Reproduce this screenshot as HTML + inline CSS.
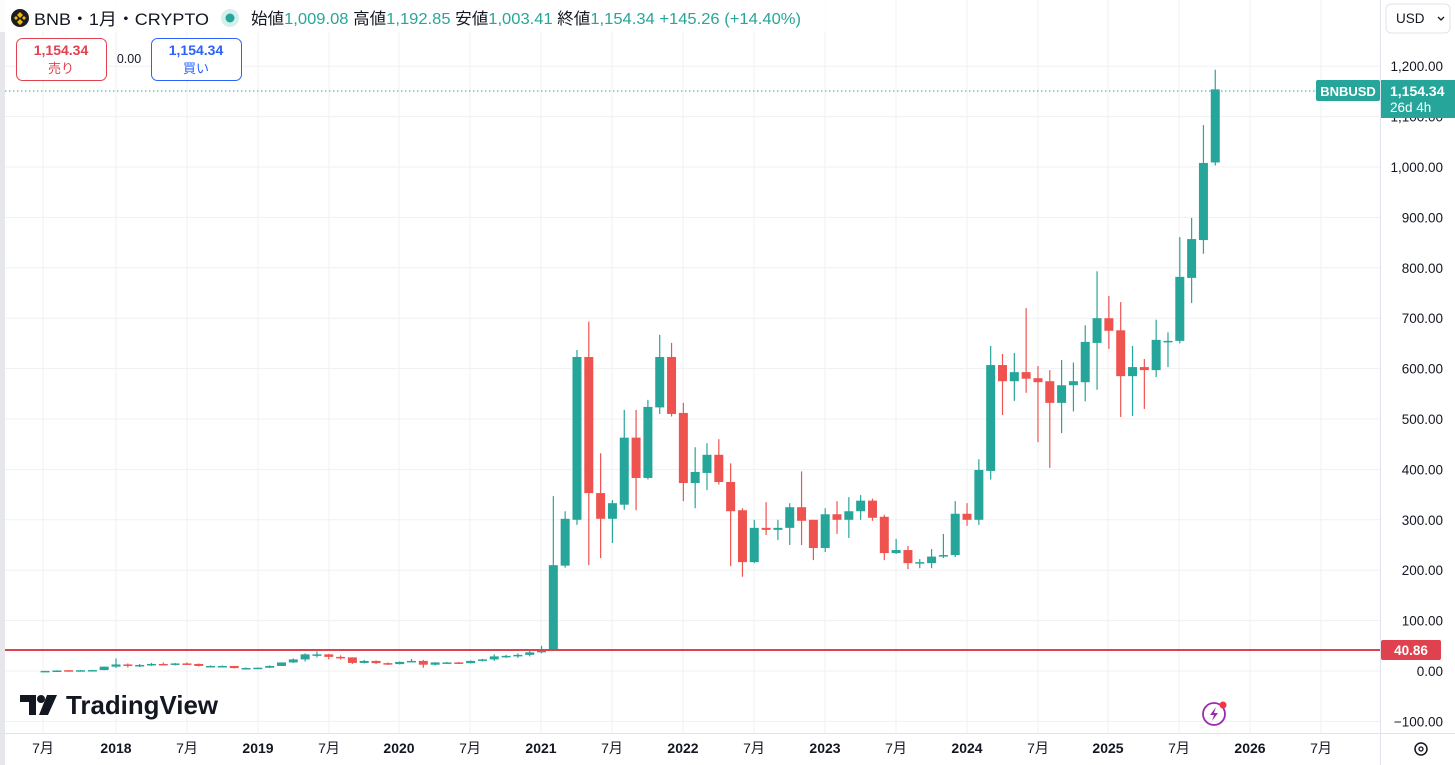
<!DOCTYPE html>
<html><head><meta charset="utf-8">
<style>
body{margin:0;width:1455px;height:765px;overflow:hidden;background:#fff;font-family:"Liberation Sans","Noto Sans CJK JP",sans-serif;}
svg{position:absolute;left:0;top:0}
</style></head><body>
<svg id="s" width="1455" height="765" xmlns="http://www.w3.org/2000/svg" font-family="Liberation Sans, Noto Sans CJK JP, sans-serif"></svg>
<script>
const s=document.getElementById('s');
let h='';
const Y=v=>671-v*0.504;
const X=i=>116+i*11.82;
for(let v=-100;v<=1200;v+=100){h+=`<line x1="5" x2="1380" y1="${Y(v)}" y2="${Y(v)}" stroke="#f0f1f3" stroke-width="1"/>`;}
const vx=[43,116,187,258,329,399,470,541,612,683,754,825,896,967,1038,1108,1179,1250,1321];
vx.forEach(x=>h+=`<line x1="${x}" x2="${x}" y1="0" y2="733" stroke="#f0f1f3"/>`);
h+=`<rect x="0" y="0" width="5" height="765" fill="#e6e7ea"/>`;
h+=`<line x1="0" x2="1455" y1="733.5" y2="733.5" stroke="#e0e3eb"/>`;
h+=`<line x1="1380.5" x2="1380.5" y1="0" y2="765" stroke="#e0e3eb"/>`;
const d=[[0.1,0.2,0.3,0.1],[0.2,1,1.5,0.2],[1.5,1.3,2,0.7],[1.3,1.5,2,1],[1.5,1.9,2.5,1.2],[1.9,8.6,9,1.5],
[8.6,13,25,6],[13,10,15,7],[10,12,14,8],[12,14,16,10],[14,13,17,12],[13,15,16,11],[15,14,17,12],[14,10,15,9],[10,10,11,8],[10,10,11,9],[10,5.8,10,5],[5.8,6,7,4.2],
[6,6.5,7,5],[6.5,10,11,6],[10,17,17,10],[17,23,25,16],[23,33,35,19],[33,33,39,27],[33,28,34,23],[28,27,31,23],[27,16,27,14],[16,20,22,15],[20,15.6,21,14],[15.6,13.7,17,12],
[13.7,18,19,13],[18,20,24,17],[20,12.5,22,6.5],[12.5,17,17.5,11],[17,17,18,15],[17,15.5,18,14],[15.5,20,21,15],[20,23,24,19],[23,29,33,20],[29,30,32,26],[30,32,35,26],[32,37,40,29],
[37,43,50,35],[42,210,347,40],[209,302,317,205],[300,623,637,290],[623,353,693,210],[353,302,432,224],[302,333,339,254],[330,463,518,320],[463,383,518,319],[383,524,538,380],[523,623,667,510],[623,510,651,505],
[512,373,532,337],[373,395,444,323],[393,429,452,359],[429,375,460,370],[375,317,412,208],[319,216,323,187],[216,284,300,214],[284,280,335,270],[280,284,300,260],[284,325,333,250],[325,298,396,250],[300,244,300,220],
[244,311,323,236],[311,300,337,272],[300,317,345,264],[317,338,349,300],[338,304,342,298],[306,234,310,220],[234,240,262,232],[240,214,248,202],[216,216,222,204],[214,227,242,204],[227,230,272,224],[230,312,337,226],
[312,300,333,288],[300,399,420,290],[397,607,645,380],[607,575,629,508],[575,593,631,536],[593,580,720,552],[581,573,605,454],[575,532,597,403],[532,567,617,472],[567,575,612,515],[573,653,686,535],[651,700,793,558],
[700,675,744,639],[676,585,732,504],[585,603,645,506],[603,597,619,520],[597,657,697,583],[655,655,672,603],[655,782,861,650],[780,857,899,730],[855,1008,1083,828],[1009,1154,1193,1003]];
d.forEach((c,k)=>{const i=k-6,x=X(i);const [o,cl,hi,lo]=c;const col=cl>=o?'#26a69a':'#ef5350';
let t=Y(Math.max(o,cl)),b=Y(Math.min(o,cl));if(b-t<1.5){b=t+1.5;}
h+=`<line x1="${x}" x2="${x}" y1="${Y(hi)}" y2="${Y(lo)}" stroke="${col}" stroke-width="1.2"/>`;
h+=`<rect x="${x-4.5}" y="${t}" width="9" height="${b-t}" fill="${col}"/>`;});
h+=`<line x1="5" x2="1380" y1="91" y2="91" stroke="#26a69a" stroke-dasharray="1.5 2.5"/>`;
h+=`<line x1="5" x2="1380" y1="650" y2="650" stroke="#e0414f" stroke-width="2"/>`;
for(let v=-100;v<=1200;v+=100){if(v===1100)continue;const t=v<0?'−100.00':(v>=1000?v.toLocaleString('en-US')+'.00':v+'.00');
h+=`<text x="1443" y="${Y(v)+5}" font-size="13.5" fill="#131722" text-anchor="end">${t}</text>`;}
h+=`<text x="1443" y="${Y(1100)+5}" font-size="13.5" fill="#131722" text-anchor="end">1,100.00</text>`;
h+=`<rect x="1316" y="80" width="64" height="21" rx="2" fill="#26a69a"/><text x="1348" y="96" font-size="13" font-weight="bold" fill="#fff" text-anchor="middle">BNBUSD</text>`;
h+=`<rect x="1381" y="80" width="74" height="38" fill="#26a69a"/><text x="1390" y="96" font-size="14" font-weight="bold" fill="#fff">1,154.34</text><text x="1390" y="112" font-size="13.5" fill="#fff">26d 4h</text>`;
h+=`<rect x="1381" y="640" width="60" height="20" rx="2" fill="#e0414f"/><text x="1411" y="655" font-size="13.5" font-weight="bold" fill="#fff" text-anchor="middle">40.86</text>`;
const xl=[[43,'7月',0],[116,'2018',1],[187,'7月',0],[258,'2019',1],[329,'7月',0],[399,'2020',1],[470,'7月',0],[541,'2021',1],[612,'7月',0],[683,'2022',1],[754,'7月',0],[825,'2023',1],[896,'7月',0],[967,'2024',1],[1038,'7月',0],[1108,'2025',1],[1179,'7月',0],[1250,'2026',1],[1321,'7月',0]];
xl.forEach(([x,t,b])=>h+=`<text x="${x}" y="753" font-size="14" ${b?'font-weight="bold"':''} fill="#131722" text-anchor="middle">${t}</text>`);
h+=`<circle cx="1421" cy="749" r="6" fill="none" stroke="#131722" stroke-width="1.5"/><circle cx="1421" cy="749" r="2" fill="none" stroke="#131722" stroke-width="1.3"/>`;
h+=`<rect x="1386" y="4" width="64" height="29" rx="5" fill="#fff" stroke="#e0e3eb"/><text x="1396" y="23" font-size="13.5" fill="#131722">USD</text><path d="M1438 17l3 3 3-3" fill="none" stroke="#131722" stroke-width="1.3"/>`;
h+=`<rect x="0" y="0" width="830" height="32" fill="#fff" opacity="0.85"/>`;
h+=`<circle cx="20" cy="18" r="9" fill="#1e1e1e"/><path d="M20 12l3 3-3 3-3-3z M14 18l2-2 2 2-2 2z M22 18l2-2 2 2-2 2z M20 19l3 3-3 3-3-3z" fill="#f0b90b"/>`;
h+=`<text x="34" y="25" font-size="17" fill="#131722" textLength="175" lengthAdjust="spacingAndGlyphs">BNB・1月・CRYPTO</text>`;
h+=`<circle cx="230" cy="18" r="9" fill="#d5efec"/><circle cx="230" cy="18" r="4.5" fill="#26a69a"/>`;
h+=`<text x="251" y="24" font-size="16" fill="#131722" textLength="550" lengthAdjust="spacingAndGlyphs">始値<tspan fill="#26a69a">1,009.08</tspan> 高値<tspan fill="#26a69a">1,192.85</tspan> 安値<tspan fill="#26a69a">1,003.41</tspan> 終値<tspan fill="#26a69a">1,154.34</tspan> <tspan fill="#26a69a">+145.26 (+14.40%)</tspan></text>`;
h+=`<rect x="16.5" y="38.5" width="90" height="42" rx="6" fill="#fff" stroke="#e0414f"/><text x="61" y="55" font-size="14" font-weight="bold" fill="#e0414f" text-anchor="middle">1,154.34</text><text x="61" y="73" font-size="13" fill="#e0414f" text-anchor="middle">売り</text>`;
h+=`<text x="129" y="63" font-size="12.5" fill="#131722" text-anchor="middle">0.00</text>`;
h+=`<rect x="151.5" y="38.5" width="90" height="42" rx="6" fill="#fff" stroke="#2962ff"/><text x="196" y="55" font-size="14" font-weight="bold" fill="#2962ff" text-anchor="middle">1,154.34</text><text x="196" y="73" font-size="13" fill="#2962ff" text-anchor="middle">買い</text>`;
h+=`<path d="M20 695h16v20h-7v-13h-9z" fill="#131722"/><circle cx="41" cy="699" r="4" fill="#131722"/><path d="M47 695h10l-9 20h-9z" fill="#131722"/>`;
h+=`<text x="66" y="714" font-size="26" font-weight="bold" fill="#131722" textLength="152" lengthAdjust="spacingAndGlyphs">TradingView</text>`;
h+=`<circle cx="1214" cy="714" r="11" fill="none" stroke="#9c27b0" stroke-width="1.8"/><path d="M1216 707l-6 8h4l-2 6 6-8h-4z" fill="#9c27b0"/><circle cx="1223" cy="705" r="3.5" fill="#f23645"/>`;
s.innerHTML=h;
</script>
</body></html>
